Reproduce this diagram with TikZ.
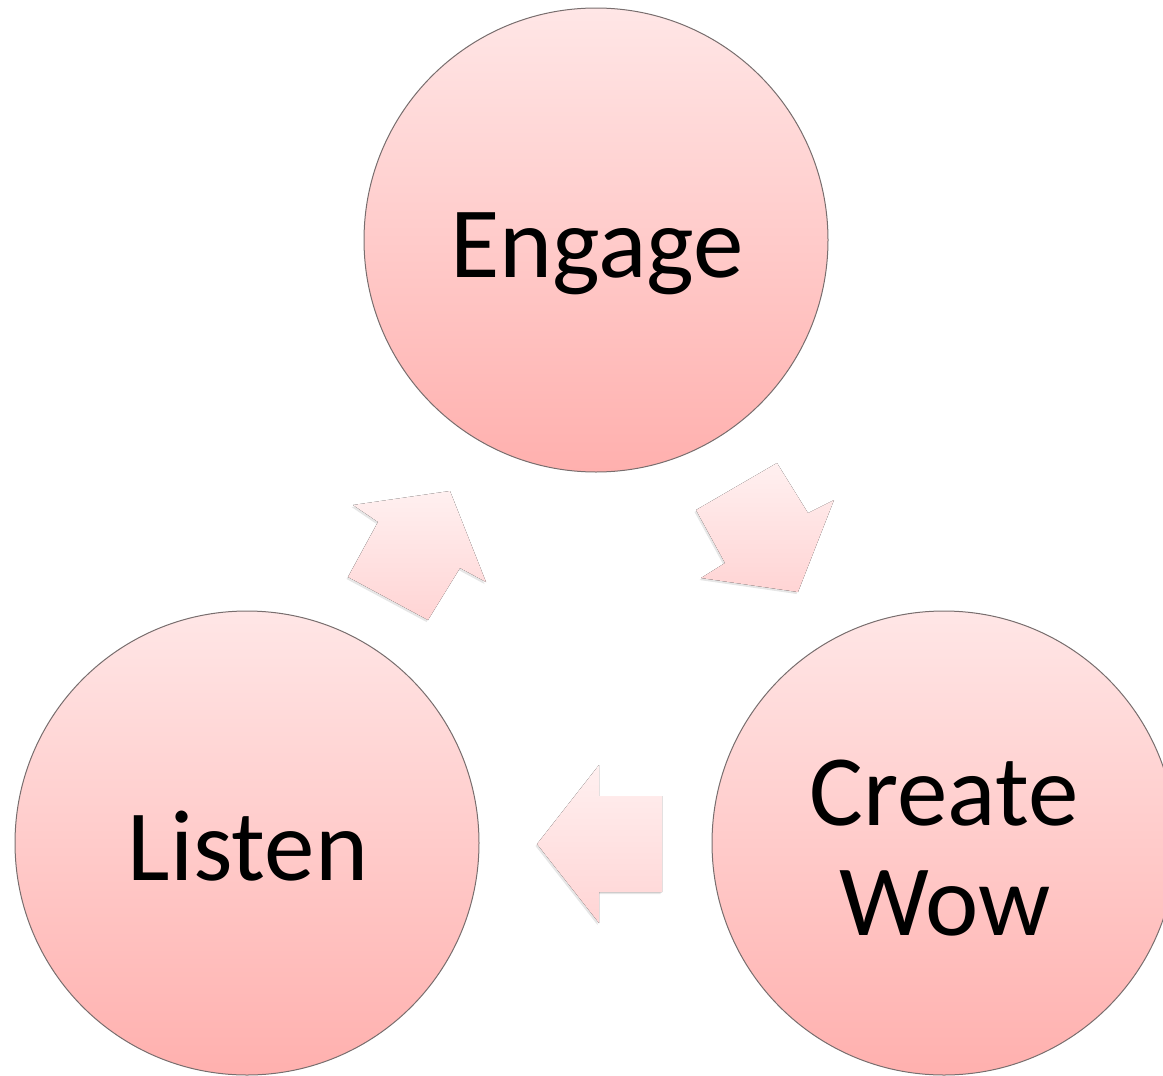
\documentclass[tikz,border=0pt]{standalone}
\usepackage{fontspec}
\setmainfont{Carlito}
\usetikzlibrary{shadows,calc}
\definecolor{ctop}{RGB}{255,230,230}
\definecolor{cbot}{RGB}{255,176,174}
\definecolor{cedge}{RGB}{120,110,110}
\definecolor{atop}{RGB}{255,240,240}
\definecolor{abot}{RGB}{255,212,212}
\tikzset{
  bubble/.style={circle, draw=cedge, line width=1pt, minimum size=464pt, inner sep=0pt,
    top color=ctop, bottom color=cbot, shading angle=0},
  word/.style={anchor=base, font=\fontsize{101}{110}\selectfont, text=black, inner sep=0pt},
  blockarrow/.style={top color=atop, bottom color=abot, draw=none,
    drop shadow={opacity=0.2, shadow xshift=-1.5pt, shadow yshift=-2pt}},
}
\begin{document}
\begin{tikzpicture}[x=1pt,y=-1pt]
\path[use as bounding box] (0,0) rectangle (1163,1076);
\clip (0,0) rectangle (1163,1076);
% circles
\node[bubble] (eng) at (596,240) {};
\node[bubble] (lis) at (247,843) {};
\node[bubble] (cre) at (944,843) {};
% texts
\node[word] (tEng) at ($(eng.center)+(1,37)$) {Engage};
\node[word] (tLis) at ($(lis.center)+(1,37)$) {Listen};
\node[word] (tCre) at ($(cre.center)+(0,-18)$) {Create};
\node[word] (tWow) at ($(cre.center)+(1,92)$) {Wow};
% block arrows
\coordinate (a1) at (450,491);
\fill[blockarrow] (a1) -- (486,582) -- (460,568) -- (428,620) -- (348,577) -- (378,522) -- (353,505) -- cycle;
\coordinate (a2) at (798,592);
\fill[blockarrow] (777,463) -- (808,513) -- (834,500) -- (a2) -- (701,578) -- (725,563) -- (696,510) -- cycle;
\coordinate (a3) at (537,844);
\fill[blockarrow] (a3) -- (599,765) -- (599,796) -- (662,796) -- (662,892) -- (599,892) -- (599,923) -- cycle;
\end{tikzpicture}
\end{document}
